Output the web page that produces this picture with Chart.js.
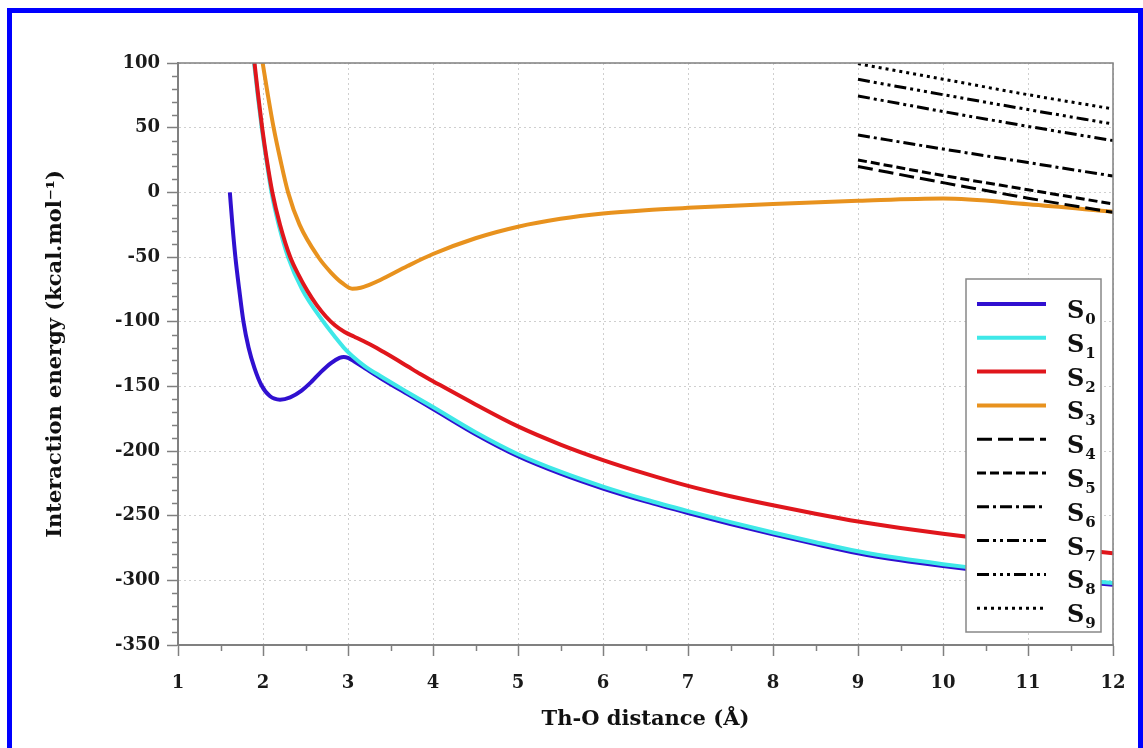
<!DOCTYPE html>
<html><head><meta charset="utf-8">
<script src="https://cdn.jsdelivr.net/npm/chart.js@4.4.0/dist/chart.umd.min.js"></script>
<style>
html,body{margin:0;padding:0;background:#fff;overflow:hidden;}
#wrap{position:relative;width:1143px;height:748px;overflow:hidden;}
#frame{position:absolute;left:7px;top:8px;width:1126px;height:800px;border:5px solid #0000ff;pointer-events:none;}
canvas{position:absolute;left:0;top:0;}
</style></head>
<body><div id="wrap"><canvas id="c" width="1143" height="748"></canvas><div id="frame"></div></div>
<script>
// ---- data (Th-O distance in Å, interaction energy in kcal/mol) ----
const seriesNames = ['S0','S1','S2','S3','S4','S5','S6','S7','S8','S9'];

const s0x = [1.61,1.64,1.675,1.72,1.77,1.83,1.90,1.98,2.08,2.20,2.32,2.45,2.57,2.68,2.80,2.90,2.95,3.00,3.08,3.20,3.38,3.70,4.00,4.50,5.00,5.50,6.00,6.50,7.00,7.50,8.00,8.50,9.00,9.50,10.00,10.50,11.00,11.50,12.00];
const s0y = [0,-25,-50,-75,-100,-120,-136,-149,-157.5,-160.3,-158.5,-153.5,-146.5,-139,-132,-128,-127.3,-128,-131,-136,-143.5,-156,-167.5,-187,-204,-217.5,-229,-239,-248,-256.5,-264.5,-272,-279,-284.5,-289,-293,-297,-300.5,-303.5];

const s1x = [1.895,1.938,1.985,2.04,2.10,2.185,2.295,2.46,2.71,2.85,2.95,3.05,3.20,3.38,3.70,4.00,4.50,5.00,5.50,6.00,6.50,7.00,7.50,8.00,8.50,9.00,9.50,10.00,10.50,11.00,11.50,12.00];
const s1y = [100,75,50,25,0,-25,-50,-75,-100,-112,-120,-126.5,-134.5,-142,-154.5,-166,-185.5,-202.5,-216,-227.5,-237.5,-246.5,-255,-263,-270.5,-277.5,-283,-287.5,-291.5,-295.5,-299,-302];

const s2x = [1.90,1.943,1.99,2.045,2.11,2.20,2.32,2.42,2.52,2.63,2.74,2.85,2.96,3.07,3.18,3.30,3.42,3.55,3.70,3.85,4.00,4.50,5.00,5.50,6.00,6.50,7.00,7.50,8.00,8.50,9.00,9.50,10.00,10.50,11.00,11.50,12.00];
const s2y = [100,75,50,25,0,-25,-50,-64,-76,-87,-96,-103,-108,-111.5,-115,-119,-123.5,-128.5,-134.5,-140.5,-146,-164,-181,-195,-207,-217.5,-227,-235,-242,-248.5,-254.5,-259.5,-264,-268,-272,-275.5,-279];

const s3x = [1.996,2.058,2.125,2.205,2.295,2.43,2.65,2.80,2.93,3.05,3.15,3.25,3.38,3.70,4.00,4.50,5.00,5.50,6.00,6.50,7.00,8.00,9.00,10.00,11.00,12.00];
const s3y = [100,75,50,25,0,-25,-50,-62,-70,-74.5,-73.8,-71.5,-67.8,-57,-47.7,-35.5,-26.6,-20.5,-16.4,-13.8,-12,-9,-6.6,-4.8,-9.2,-15];

const highX = [9,10,11,12];
const s4y = [20,7.5,-4.5,-15.5];
const s5y = [25,13,2,-9];
const s6y = [44.3,33.5,23,12.6];
const s7y = [74.5,62.5,51,40];
const s8y = [87.4,75.5,64,52.8];
const s9y = [99.5,87.5,75.5,64.5];

const xTicks = [1,2,3,4,5,6,7,8,9,10,11,12];
const yTicks = [-350,-300,-250,-200,-150,-100,-50,0,50,100];

// ---- styling ----
const FONT = "'DejaVu Serif', serif";
const pts = (xs, ys) => xs.map((x, i) => ({x, y: ys[i]}));

const styles = [
  {color:'#3010d0', width:4, dash:[], order:5},
  {color:'#3fe8e8', width:4, dash:[], order:4},
  {color:'#e0161c', width:4, dash:[], order:3},
  {color:'#e8921e', width:4, dash:[], order:2},
  {color:'#000', width:3, dash:[15,6], order:1},
  {color:'#000', width:3, dash:[9,4], order:1},
  {color:'#000', width:3, dash:[12,4,3,4], order:1},
  {color:'#000', width:3, dash:[12,4,3,4,3,4], order:1},
  {color:'#000', width:3, dash:[12,4,3,4,3,4,3,4], order:1},
  {color:'#000', width:3, dash:[3,4], order:1}
];
const dataPts = [pts(s0x,s0y),pts(s1x,s1y),pts(s2x,s2y),pts(s3x,s3y),
  pts(highX,s4y),pts(highX,s5y),pts(highX,s6y),pts(highX,s7y),pts(highX,s8y),pts(highX,s9y)];

const datasets = seriesNames.map((n, i) => ({
  label: n,
  data: dataPts[i],
  borderColor: styles[i].color,
  backgroundColor: styles[i].color,
  borderWidth: styles[i].width,
  borderDash: styles[i].dash,
  borderCapStyle: 'butt',
  order: styles[i].order,
  pointRadius: 0,
  fill: false,
  cubicInterpolationMode: 'monotone'
}));

const extras = {
  id: 'extras',
  afterDatasetsDraw(chart) {
    const {ctx, chartArea: a, scales: {x, y}} = chart;
    ctx.save();
    ctx.strokeStyle = '#808080';
    ctx.lineWidth = 1.5;
    ctx.setLineDash([]);
    // minor ticks
    for (let v = -340; v < 100; v += 10) {
      if (v % 50 === 0) continue;
      const py = Math.round(y.getPixelForValue(v)) + 0.5;
      ctx.beginPath(); ctx.moveTo(a.left - 6, py); ctx.lineTo(a.left, py); ctx.stroke();
    }
    for (let v = 1.5; v < 12; v += 1) {
      const px = Math.round(x.getPixelForValue(v)) + 0.5;
      ctx.beginPath(); ctx.moveTo(px, a.bottom); ctx.lineTo(px, a.bottom + 6); ctx.stroke();
    }
    // plot frame
    ctx.strokeRect(a.left, a.top, a.right - a.left, a.bottom - a.top);
    // legend
    const lx = 966, ly = 279, lw = 135, lh = 353;
    ctx.fillStyle = '#fff';
    ctx.fillRect(lx, ly, lw, lh);
    ctx.strokeStyle = '#888';
    ctx.lineWidth = 1.5;
    ctx.strokeRect(lx, ly, lw, lh);
    chart.data.datasets.forEach((ds, i) => {
      const yy = 304 + i * 33.8;
      ctx.save();
      ctx.strokeStyle = ds.borderColor;
      ctx.lineWidth = ds.borderWidth;
      ctx.setLineDash(ds.borderDash);
      ctx.beginPath(); ctx.moveTo(977, yy); ctx.lineTo(1046, yy); ctx.stroke();
      ctx.restore();
      ctx.fillStyle = '#111';
      ctx.textBaseline = 'alphabetic';
      ctx.textAlign = 'left';
      ctx.font = 'bold 24px ' + FONT;
      ctx.fillText('S', 1067, yy + 14);
      const w = ctx.measureText('S').width;
      ctx.font = 'bold 15px ' + FONT;
      ctx.fillText(ds.label.slice(1), 1067 + w + 1, yy + 20);
    });
    ctx.restore();
  }
};

new Chart(document.getElementById('c'), {
  type: 'line',
  data: {datasets},
  options: {
    responsive: false,
    animation: false,
    devicePixelRatio: 1,
    layout: {padding: {top: 63, right: 30, left: 0, bottom: 0}},
    plugins: {legend: {display: false}, tooltip: {enabled: false}},
    scales: {
      x: {
        type: 'linear', min: 1, max: 12,
        afterFit: s => { s.height = 103; },
        afterBuildTicks: s => { s.ticks = xTicks.map(v => ({value: v})); },
        ticks: {font: {family: FONT, size: 18, weight: 'bold'}, color: '#1a1a1a', padding: 17, maxRotation: 0},
        grid: {color: '#cfcfcf', lineWidth: 1, tickColor: '#808080', tickLength: 11, tickWidth: 1.5},
        border: {color: '#808080', width: 2, dash: [2, 3]},
        title: {display: true, text: 'Th-O distance (Å)', font: {family: FONT, size: 21, weight: 'bold'}, color: '#111', padding: {top: 0, bottom: 16}}
      },
      y: {
        type: 'linear', min: -350, max: 100,
        afterFit: s => { s.width = 178; },
        afterBuildTicks: s => { s.ticks = yTicks.map(v => ({value: v})); },
        ticks: {font: {family: FONT, size: 18, weight: 'bold'}, color: '#1a1a1a', padding: 7},
        grid: {color: '#cfcfcf', lineWidth: 1, tickColor: '#808080', tickLength: 11, tickWidth: 1.5},
        border: {color: '#808080', width: 2, dash: [2, 3]},
        title: {display: true, text: 'Interaction energy (kcal.mol⁻¹)', font: {family: FONT, size: 21, weight: 'bold'}, color: '#111', padding: {top: 43, bottom: 0}}
      }
    }
  },
  plugins: [extras]
});
</script>
</body></html>
